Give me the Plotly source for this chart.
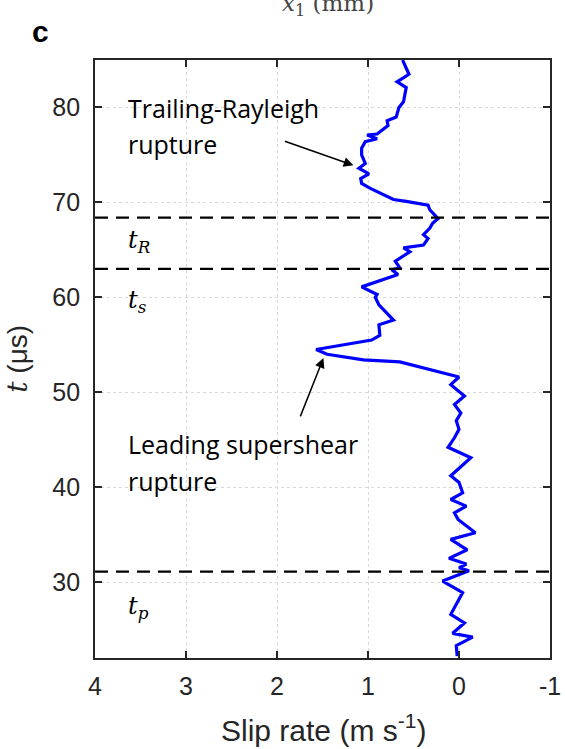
import plotly.graph_objects as go

# Slip rate (m/s) and time (us)
time_us = [85.0, 83.5, 82.7, 82.1, 80.6, 80.0, 79.0, 78.6, 78.1, 77.2, 77.1, 76.7, 76.4,
           75.7, 75.0, 74.1, 73.6, 73.0, 72.5, 72.0, 71.5, 70.8, 70.3, 70.1, 69.7, 69.2,
           68.3, 67.8, 67.3, 66.6, 66.2, 65.5, 65.2, 64.8, 63.8, 63.1, 62.9, 62.4, 61.1,
           60.3, 60.0, 59.2, 57.6, 57.1, 56.0, 55.5, 54.5, 54.0, 53.4, 53.2, 52.2, 51.6,
           50.8, 49.6, 48.7, 47.8, 47.0, 46.1, 45.2, 44.2, 43.1, 42.2, 41.2, 40.5, 39.4,
           38.7, 38.0, 37.3, 36.6, 35.2, 34.5, 33.4, 32.5, 31.9, 31.5, 31.2, 30.1, 28.9,
           28.2, 26.6, 25.7, 24.6, 24.2, 23.3, 22.2]
slip_rate = [0.62, 0.55, 0.68, 0.58, 0.61, 0.66, 0.69, 0.79, 0.78, 0.90, 1.01, 0.90, 1.03,
             1.07, 1.07, 1.03, 1.10, 0.99, 1.08, 1.07, 0.98, 0.83, 0.72, 0.58, 0.34, 0.32,
             0.23, 0.29, 0.32, 0.39, 0.34, 0.39, 0.61, 0.54, 0.70, 0.65, 0.74, 0.67, 1.07,
             0.90, 0.92, 0.88, 0.72, 0.88, 0.87, 0.96, 1.57, 1.45, 1.05, 0.65, 0.25, 0.00,
             0.09, -0.06, 0.05, -0.02, 0.03, 0.00, 0.05, 0.12, -0.13, -0.02, 0.09, 0.00, -0.04,
             0.09, -0.08, 0.05, 0.01, -0.18, 0.09, -0.09, 0.11, -0.08, 0.00, -0.11, 0.18, -0.04,
             0.00, 0.09, -0.06, 0.07, -0.15, 0.03, 0.02]

marker_times = [68.4, 63.0, 31.1]
marker_labels = ["<i>t</i><sub><i>R</i></sub>", "<i>t</i><sub><i>s</i></sub>", "<i>t</i><sub><i>p</i></sub>"]
marker_label_y = [65.9, 59.6, 27.3]

note_lines = ["Trailing-Rayleigh", "rupture", "Leading supershear", "rupture"]
note_line_y = [79.9, 76.1, 44.5, 40.6]

x_ticks = [4, 3, 2, 1, 0, -1]
y_ticks = [30, 40, 50, 60, 70, 80]

axis_color = "#262626"
font_main = "Liberation Sans, Arial, Helvetica, sans-serif"
font_note = "Open Sans, sans-serif"
font_math = "DejaVu Serif, Liberation Serif, serif"

fig = go.Figure()
fig.add_trace(go.Scatter(x=slip_rate, y=time_us, mode="lines",
                         line=dict(color="#0000FF", width=3.2), showlegend=False,
                         hoverinfo="skip"))

shapes = []
for t in marker_times:
    shapes.append(dict(type="line", xref="paper", x0=0, x1=1, yref="y", y0=t, y1=t,
                       line=dict(color="black", width=2.2, dash="13px,8px"), layer="above"))

annotations = []
for lab, ly in zip(marker_labels, marker_label_y):
    annotations.append(dict(x=3.66, y=ly, xref="x", yref="y", text=lab, showarrow=False,
                            xanchor="left", yanchor="middle",
                            font=dict(family=font_math, size=24, color="black")))
for txt, ly in zip(note_lines, note_line_y):
    annotations.append(dict(x=3.66, y=ly, xref="x", yref="y", text=txt, showarrow=False,
                            xanchor="left", yanchor="middle",
                            font=dict(family=font_note, size=25, color="black")))

annotations += [
    dict(x=1.16, y=73.9, ax=1.93, ay=76.5, xref="x", yref="y", axref="x", ayref="y",
         text="", showarrow=True, arrowhead=2, arrowsize=1.3, arrowwidth=1.5, arrowcolor="black"),
    dict(x=1.49, y=53.6, ax=1.75, ay=47.3, xref="x", yref="y", axref="x", ayref="y",
         text="", showarrow=True, arrowhead=2, arrowsize=1.3, arrowwidth=1.5, arrowcolor="black"),
    dict(x=-0.119, y=1.048, xref="paper", yref="paper", text="<b>c</b>", showarrow=False,
         xanchor="center", yanchor="middle", font=dict(family=font_main, size=30, color="black")),
    dict(x=0.511, y=1.092, xref="paper", yref="paper", text="<i>x</i><sub>1</sub> (mm)",
         showarrow=False, xanchor="center", yanchor="middle",
         font=dict(family=font_math, size=23, color="#444444")),
    dict(x=0.503, y=-0.117, xref="paper", yref="paper",
         text="Slip rate (m s<sup>-1</sup>)", showarrow=False,
         xanchor="center", yanchor="middle", font=dict(family=font_main, size=30, color=axis_color)),
    dict(x=-0.172, y=0.5, xref="paper", yref="paper", textangle=-90,
         text="<span style='font-family:DejaVu Serif, serif'><i>t</i></span> (μs)",
         showarrow=False, xanchor="center", yanchor="middle",
         font=dict(family=font_main, size=28, color=axis_color)),
]

fig.update_layout(
    width=565, height=749,
    margin=dict(l=95, r=15, t=60, b=91, autoexpand=False),
    plot_bgcolor="white", paper_bgcolor="white",
    shapes=shapes, annotations=annotations,
    font=dict(family=font_main, color=axis_color),
    xaxis=dict(range=[4, -1], tickvals=x_ticks, ticktext=[str(v) for v in x_ticks],
               ticks="inside", ticklen=7, tickwidth=1.5, tickcolor=axis_color,
               showline=True, linecolor=axis_color, linewidth=1.8, mirror="allticks",
               showgrid=True, gridcolor="#d9d9d9", griddash="dot", gridwidth=1.2,
               zeroline=False, tickfont=dict(size=25, color=axis_color),
               ticklabelstandoff=5, automargin=False),
    yaxis=dict(range=[22, 85], tickvals=y_ticks, ticktext=[str(v) for v in y_ticks],
               ticks="inside", ticklen=7, tickwidth=1.5, tickcolor=axis_color,
               showline=True, linecolor=axis_color, linewidth=1.8, mirror="allticks",
               showgrid=True, gridcolor="#d9d9d9", griddash="dot", gridwidth=1.2,
               zeroline=False, tickfont=dict(size=25, color=axis_color),
               ticklabelstandoff=8, automargin=False),
)

fig.write_html("out.html", config={"displayModeBar": False},
               post_script="document.body.style.margin='0px';")
